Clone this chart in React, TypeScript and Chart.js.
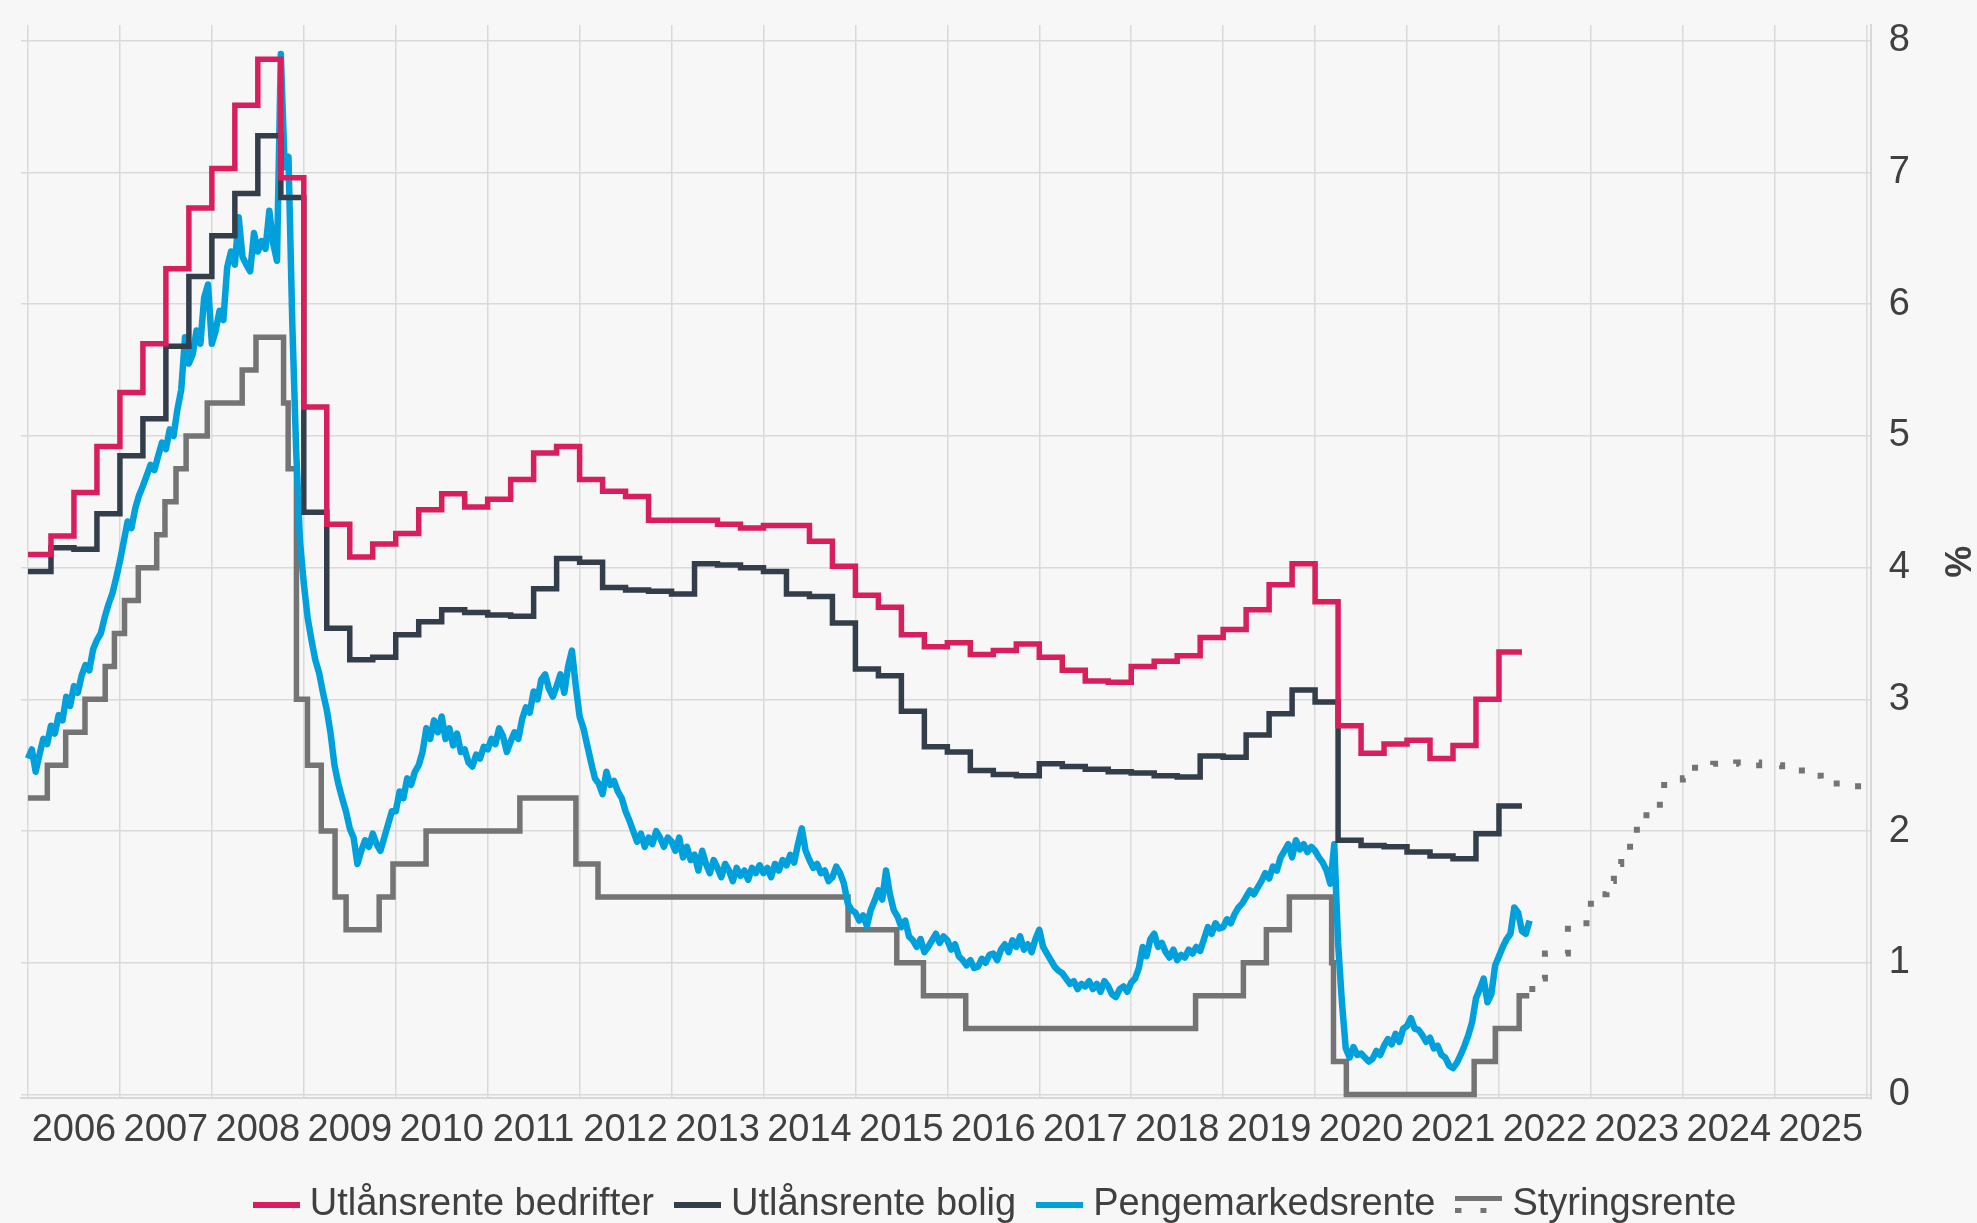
import React, { useEffect, useRef } from "react";
import { Chart, registerables } from "chart.js";

Chart.register(...registerables);

// ---------- data ----------
const SERIES_NAMES = ["Utlånsrente bedrifter", "Utlånsrente bolig", "Pengemarkedsrente", "Styringsrente"];

// x-axis label positions (middle of each year) and y ticks
const YEAR_LABEL_POS = [
  2006.5, 2007.5, 2008.5, 2009.5, 2010.5, 2011.5, 2012.5, 2013.5, 2014.5, 2015.5,
  2016.5, 2017.5, 2018.5, 2019.5, 2020.5, 2021.5, 2022.5, 2023.5, 2024.5, 2025.5,
];
const Y_TICKS = [0, 1, 2, 3, 4, 5, 6, 7, 8];

// quarterly lending rates, first quarter = 2006 Q1
const QUARTER_START = 2006;
const LENDING_BUSINESS = [
  4.10, 4.24, 4.57, 4.92, 5.33, 5.70, 6.27, 6.73, 7.03, 7.51, 7.86, 6.96,
  5.22, 4.33, 4.08, 4.18, 4.26, 4.44, 4.56, 4.46, 4.52, 4.67, 4.87, 4.92,
  4.67, 4.58, 4.54, 4.36, 4.36, 4.36, 4.33, 4.30, 4.32, 4.32, 4.20, 4.01,
  3.79, 3.70, 3.49, 3.40, 3.43, 3.34, 3.37, 3.42, 3.32, 3.22, 3.14, 3.13,
  3.25, 3.29, 3.33, 3.47, 3.53, 3.68, 3.87, 4.03, 3.74, 2.80, 2.59, 2.66,
  2.69, 2.55, 2.65, 3.00, 3.36,
];
const LENDING_MORTGAGE = [
  3.97, 4.15, 4.14, 4.41, 4.85, 5.13, 5.68, 6.21, 6.52, 6.84, 7.28, 6.81,
  4.42, 3.54, 3.30, 3.32, 3.49, 3.59, 3.68, 3.66, 3.64, 3.63, 3.84, 4.07,
  4.04, 3.85, 3.83, 3.82, 3.80, 4.03, 4.02, 4.00, 3.97, 3.80, 3.78, 3.58,
  3.23, 3.18, 2.91, 2.64, 2.60, 2.46, 2.43, 2.42, 2.51, 2.49, 2.47, 2.45,
  2.44, 2.42, 2.41, 2.57, 2.56, 2.73, 2.89, 3.07, 2.98, 1.93, 1.89, 1.88,
  1.84, 1.81, 1.79, 1.98, 2.19,
];

// money market rate, twice a month from 2006-01
const MM_START = 2006;
const MONEY_MARKET = [
  // 2006
  2.55, 2.62, 2.45, 2.58, 2.70, 2.66, 2.80, 2.74, 2.88, 2.84, 3.02, 2.95, 3.10, 3.05, 3.18, 3.26, 3.22, 3.38, 3.45, 3.50, 3.62, 3.72, 3.80, 3.92,
  // 2007
  4.05, 4.20, 4.35, 4.30, 4.45, 4.55, 4.62, 4.70, 4.78, 4.74, 4.85, 4.95, 4.90, 5.05, 5.00, 5.20, 5.35, 5.75, 5.55, 5.62, 5.80, 5.70, 6.05, 6.15,
  // 2008
  5.70, 5.80, 5.95, 5.88, 6.28, 6.40, 6.30, 6.66, 6.36, 6.30, 6.25, 6.54, 6.40, 6.48, 6.42, 6.71, 6.46, 6.33, 7.90, 7.04, 7.12, 5.85, 4.90, 4.20,
  // 2009
  3.88, 3.62, 3.45, 3.30, 3.20, 3.05, 2.92, 2.74, 2.50, 2.36, 2.25, 2.15, 2.02, 1.95, 1.75, 1.85, 1.93, 1.88, 1.98, 1.90, 1.85, 1.95, 2.05, 2.15,
  // 2010
  2.15, 2.30, 2.25, 2.40, 2.35, 2.45, 2.50, 2.60, 2.78, 2.70, 2.84, 2.75, 2.87, 2.70, 2.78, 2.65, 2.74, 2.60, 2.62, 2.52, 2.49, 2.58, 2.55, 2.64,
  // 2011
  2.62, 2.70, 2.66, 2.78, 2.72, 2.60, 2.68, 2.75, 2.70, 2.85, 2.94, 2.90, 3.06, 3.00, 3.15, 3.19, 3.08, 3.02, 3.10, 3.19, 3.05, 3.25, 3.37, 3.10,
  // 2012
  2.87, 2.78, 2.65, 2.52, 2.40, 2.36, 2.28, 2.45, 2.35, 2.38, 2.30, 2.25, 2.15, 2.08, 2.00, 1.92, 1.98, 1.88, 1.95, 1.90, 2.00, 1.95, 1.88, 1.95,
  // 2013
  1.92, 1.85, 1.95, 1.80, 1.88, 1.78, 1.82, 1.70, 1.85, 1.75, 1.68, 1.78, 1.72, 1.65, 1.75, 1.70, 1.62, 1.72, 1.66, 1.70, 1.63, 1.72, 1.68, 1.74,
  // 2014
  1.68, 1.72, 1.65, 1.75, 1.70, 1.78, 1.74, 1.82, 1.76, 1.90, 2.02, 1.85, 1.78, 1.72, 1.75, 1.68, 1.70, 1.62, 1.65, 1.73, 1.68, 1.60, 1.45, 1.40,
  // 2015
  1.38, 1.32, 1.36, 1.28, 1.40, 1.47, 1.55, 1.48, 1.70, 1.52, 1.40, 1.35, 1.27, 1.32, 1.20, 1.17, 1.12, 1.18, 1.08, 1.12, 1.17, 1.22, 1.15, 1.20,
  // 2016
  1.17, 1.10, 1.14, 1.05, 1.02, 0.98, 1.02, 0.96, 0.97, 1.03, 1.00, 1.06, 1.07, 1.02, 1.10, 1.14, 1.08, 1.17, 1.12, 1.20, 1.10, 1.14, 1.08, 1.18,
  // 2017
  1.25, 1.12, 1.07, 1.02, 0.97, 0.94, 0.92, 0.88, 0.84, 0.86, 0.80, 0.84, 0.82, 0.86, 0.80, 0.84, 0.78, 0.86, 0.82, 0.76, 0.74, 0.80, 0.82, 0.78,
  // 2018
  0.85, 0.88, 0.96, 1.12, 1.05, 1.18, 1.22, 1.12, 1.15, 1.08, 1.04, 1.10, 1.02, 1.06, 1.04, 1.10, 1.07, 1.12, 1.09, 1.18, 1.27, 1.22, 1.30, 1.26,
  // 2019
  1.27, 1.33, 1.30, 1.37, 1.42, 1.45, 1.50, 1.55, 1.52, 1.57, 1.62, 1.68, 1.64, 1.73, 1.70, 1.80, 1.85, 1.90, 1.80, 1.93, 1.86, 1.90, 1.84, 1.88,
  // 2020
  1.85, 1.80, 1.76, 1.70, 1.60, 1.90, 1.15, 0.70, 0.35, 0.28, 0.36, 0.30, 0.31, 0.28, 0.25, 0.27, 0.33, 0.30, 0.37, 0.42, 0.38, 0.46, 0.40, 0.50,
  // 2021
  0.52, 0.58, 0.50, 0.49, 0.45, 0.40, 0.43, 0.35, 0.37, 0.30, 0.28, 0.22, 0.20, 0.24, 0.30, 0.37, 0.45, 0.55, 0.73, 0.80, 0.88, 0.70, 0.76, 0.98,
  // 2022
  1.05, 1.12, 1.18, 1.22, 1.42, 1.38, 1.24, 1.22, 1.32,
];

// policy rate: change dates (decimal years) and new level
const POLICY_DATES = [
  2006.0, 2006.21, 2006.41, 2006.62, 2006.84, 2006.94, 2007.05, 2007.2, 2007.4, 2007.49, 2007.61, 2007.72,
  2007.95, 2008.33, 2008.48, 2008.78, 2008.83, 2008.92, 2009.04, 2009.19, 2009.34, 2009.46, 2009.82, 2009.97,
  2010.33, 2011.35, 2011.96, 2012.2, 2014.92, 2015.45, 2015.74, 2016.2, 2018.7, 2019.22, 2019.47, 2019.72,
  2020.18, 2020.2, 2020.34, 2021.73, 2021.96, 2022.22, 2022.33,
];
const POLICY_RATE = [
  2.25, 2.5, 2.75, 3.0, 3.25, 3.5, 3.75, 4.0, 4.25, 4.5, 4.75, 5.0,
  5.25, 5.5, 5.75, 5.25, 4.75, 3.0, 2.5, 2.0, 1.5, 1.25, 1.5, 1.75,
  2.0, 2.25, 1.75, 1.5, 1.25, 1.0, 0.75, 0.5, 0.75, 1.0, 1.25, 1.5,
  1.0, 0.25, 0.0, 0.25, 0.5, 0.75, 0.75,
];

// policy rate forecast (dotted)
const FORECAST_DATES = [
  2022.33, 2022.42, 2022.5, 2022.75, 2023.0, 2023.17, 2023.25, 2023.33, 2023.5, 2023.75, 2024.0,
  2024.08, 2024.33, 2024.58, 2024.83, 2025.08, 2025.33, 2025.5, 2025.75, 2026.0, 2026.1,
];
const FORECAST_RATE = [
  0.8, 0.88, 1.07, 1.30, 1.52, 1.62, 1.75, 1.88, 2.12, 2.35, 2.40,
  2.48, 2.51, 2.52, 2.50, 2.46, 2.42, 2.36, 2.34, 2.30, 2.30,
];

// ---------- styling ----------
const COLORS = ["#d81e5b", "#333e4a", "#00a0dc", "#747474"];
const BG = "#f7f7f7";
const GRID = "#dadada";
const TEXT = "#404040";
const FONT = '"Liberation Sans", Arial, Helvetica, sans-serif';
const W = 1977;
const H = 1240;

function quarterly(values: number[]) {
  const pts = values.map((v, i) => ({ x: QUARTER_START + i * 0.25, y: v }));
  pts.push({ x: QUARTER_START + values.length * 0.25, y: values[values.length - 1] });
  return pts;
}

function pairs(xs: number[], ys: number[]) {
  return xs.map((x, i) => ({ x, y: ys[i] }));
}

function icon(color: string, withDots: boolean) {
  const c = document.createElement("canvas");
  c.width = 47;
  c.height = withDots ? 18 : 6;
  const g = c.getContext("2d")!;
  g.fillStyle = color;
  if (withDots) {
    g.fillRect(0, 0, 47, 5);
    g.fillRect(0, 12, 6, 5);
    g.fillRect(25, 12, 6, 5);
  } else {
    g.fillRect(0, 0, 47, 6);
  }
  return c;
}

const bgPlugin = {
  id: "bgFill",
  beforeDraw(chart: any) {
    const { ctx, width, height } = chart;
    ctx.save();
    ctx.fillStyle = BG;
    ctx.fillRect(0, 0, width, height);
    ctx.restore();
  },
};

export default function App() {
  const ref = useRef<HTMLCanvasElement>(null);

  useEffect(() => {
    document.documentElement.style.overflow = "hidden";
    document.body.style.overflow = "hidden";
    document.body.style.margin = "0";
    document.body.style.background = BG;

    const canvas = ref.current!;
    const icons = COLORS.map((c, i) => icon(c, i === 3));
    const lineBase = {
      pointRadius: 0,
      pointHoverRadius: 0,
      tension: 0,
      borderJoinStyle: "miter" as const,
      borderCapStyle: "butt" as const,
      fill: false,
    };

    const chart = new Chart(canvas, {
      type: "line",
      data: {
        datasets: [
          { ...lineBase, label: SERIES_NAMES[0], data: quarterly(LENDING_BUSINESS), borderColor: COLORS[0], borderWidth: 5.5, stepped: true },
          { ...lineBase, label: SERIES_NAMES[1], data: quarterly(LENDING_MORTGAGE), borderColor: COLORS[1], borderWidth: 5.5, stepped: true },
          {
            ...lineBase,
            label: SERIES_NAMES[2],
            data: MONEY_MARKET.map((v, i) => ({ x: MM_START + i / 24, y: v })),
            borderColor: COLORS[2],
            borderWidth: 6.5,
            borderJoinStyle: "round" as const,
          },
          { ...lineBase, label: SERIES_NAMES[3], data: pairs(POLICY_DATES, POLICY_RATE), borderColor: COLORS[3], borderWidth: 5.5, stepped: true },
          {
            ...lineBase,
            label: SERIES_NAMES[3] + " (prognose)",
            data: pairs(FORECAST_DATES, FORECAST_RATE),
            borderColor: COLORS[3],
            borderWidth: 6,
            borderDash: [6, 18],
            stepped: true,
          },
        ],
      },
      options: {
        responsive: false,
        animation: false,
        devicePixelRatio: 1,
        layout: { padding: { left: 21, top: 25, right: 0, bottom: 6 } },
        plugins: {
          tooltip: { enabled: false },
          legend: {
            display: true,
            position: "bottom",
            labels: {
              usePointStyle: true,
              pointStyleWidth: 29,
              padding: 29,
              color: TEXT,
              font: { family: FONT, size: 38 },
              generateLabels: () =>
                SERIES_NAMES.map((text, i) => ({
                  text,
                  pointStyle: icons[i] as any,
                  fillStyle: "rgba(0,0,0,0)",
                  strokeStyle: "rgba(0,0,0,0)",
                  lineWidth: 0,
                  hidden: false,
                  datasetIndex: i,
                  fontColor: TEXT,
                })),
            },
          },
        },
        scales: {
          x: {
            type: "linear",
            position: "bottom",
            min: 2005.924,
            max: 2026.043,
            afterBuildTicks: (axis: any) => {
              axis.ticks = YEAR_LABEL_POS.map((v) => ({ value: v }));
            },
            afterFit: (axis: any) => {
              axis.height = 58.6;
              axis.paddingLeft = 0;
              axis.paddingRight = 0;
            },
            ticks: {
              autoSkip: false,
              maxRotation: 0,
              minRotation: 0,
              padding: 9,
              color: TEXT,
              font: { family: FONT, size: 38 },
              callback: (v: any) => String(Math.floor(Number(v))),
            },
            grid: { offset: true, color: GRID, lineWidth: 1.5, drawTicks: false },
            border: { display: true, color: "#d8d8d8", width: 2 },
          },
          y: {
            type: "linear",
            position: "right",
            min: -0.03,
            max: 8.12,
            afterBuildTicks: (axis: any) => {
              axis.ticks = Y_TICKS.map((v) => ({ value: v }));
            },
            afterFit: (axis: any) => {
              axis.paddingTop = 0;
              axis.paddingBottom = 0;
            },
            ticks: {
              padding: 18,
              color: TEXT,
              font: { family: FONT, size: 38 },
              callback: (v: any) => String(v),
            },
            grid: { color: GRID, lineWidth: 1.5, drawTicks: false },
            border: { display: true, color: "#d8d8d8", width: 2 },
            title: {
              display: true,
              text: "%",
              color: TEXT,
              font: { family: FONT, size: 36, weight: "bold" },
              padding: { top: 0, bottom: 6 },
            },
          },
        },
      },
      plugins: [bgPlugin],
    });

    return () => chart.destroy();
  }, []);

  return (
    <canvas
      ref={ref}
      width={W}
      height={H}
      style={{ display: "block", width: W + "px", height: H + "px" }}
    />
  );
}
